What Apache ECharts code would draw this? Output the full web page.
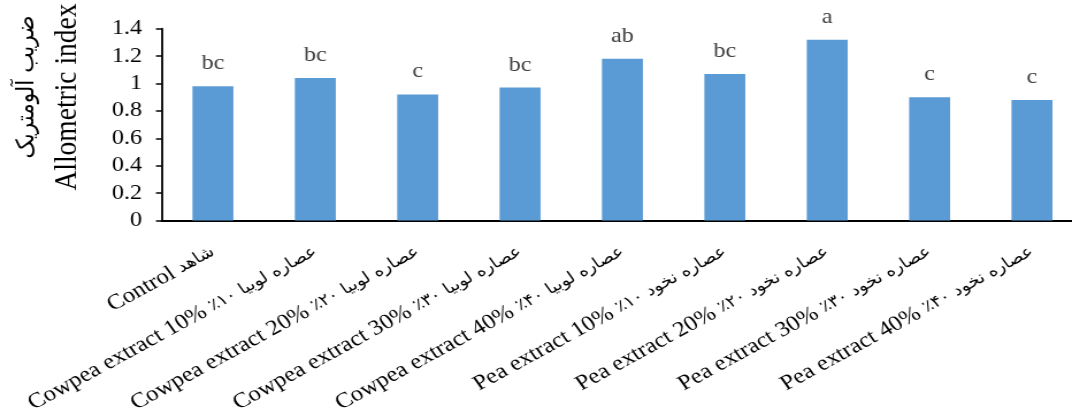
<!DOCTYPE html>
<html>
<head>
<meta charset="utf-8">
<script src="https://cdn.jsdelivr.net/npm/echarts@6/dist/echarts.min.js"></script>
<style>
  html, body { margin: 0; padding: 0; background: #fff; overflow: hidden; }
  /* the chart is laid out on a narrower canvas and widened horizontally */
  #chart { width: 932px; height: 408px; transform: scaleX(1.150215); transform-origin: 0 0; }
</style>
</head>
<body>
<div id="chart"></div>
<script>
// Treatments (English + Persian caption for each bar)
const categoriesEn = ['Control', 'Cowpea extract 10%', 'Cowpea extract 20%', 'Cowpea extract 30%', 'Cowpea extract 40%',
  'Pea extract 10%', 'Pea extract 20%', 'Pea extract 30%', 'Pea extract 40%'];
const categoriesFa = ['شاهد', 'عصاره لوبیا ۱۰٪', 'عصاره لوبیا ۲۰٪', 'عصاره لوبیا ۳۰٪', 'عصاره لوبیا ۴۰٪',
  'عصاره نخود ۱۰٪', 'عصاره نخود ۲۰٪', 'عصاره نخود ۳۰٪', 'عصاره نخود ۴۰٪'];

// Allometric index per treatment
const allometricIndex = [0.98, 1.04, 0.92, 0.97, 1.18, 1.07, 1.32, 0.90, 0.88];

// Mean-separation letters
const letters = ['bc', 'bc', 'c', 'bc', 'ab', 'bc', 'a', 'c', 'c'];

// Value axis range
const yMin = 0, yMax = 1.4, yStep = 0.2;

const yTitleEn = 'Allometric index';
const yTitleFa = 'ضریب آلومتریک';

const RLM = '\u200F';
const serif = '"Liberation Serif", "Times New Roman", serif';
const arabicFont = '"DejaVu Sans", sans-serif';

const chart = echarts.init(document.getElementById('chart'), null, { renderer: 'canvas' });

chart.setOption({
  backgroundColor: '#ffffff',
  animation: false,
  grid: {
    left: 140.6, right: -9.7, top: 28.7, bottom: 187.5,
    containLabel: false,
    outerBoundsMode: 'none'
  },
  xAxis: {
    type: 'category',
    data: categoriesEn,
    axisLine: { show: true, lineStyle: { color: '#000', width: 2 } },
    axisTick: { show: false },
    axisLabel: {
      interval: 0,
      rotate: 32,
      margin: 30,
      formatter: (value, idx) => '{en|' + categoriesEn[idx] + ' }{fa|' + RLM + categoriesFa[idx] + RLM + '}',
      rich: {
        en: { fontFamily: serif, fontSize: 21.5, color: '#000' },
        fa: { fontFamily: arabicFont, fontSize: 16, color: '#000' }
      }
    }
  },
  yAxis: {
    type: 'value',
    min: yMin,
    max: yMax,
    interval: yStep,
    splitLine: { show: false },
    axisLine: { show: true, lineStyle: { color: '#000', width: 1.8 } },
    axisTick: { show: true, inside: false, length: 5, lineStyle: { color: '#000', width: 1.5 } },
    axisLabel: {
      margin: 17,
      fontFamily: serif,
      fontSize: 21,
      color: '#000'
    }
  },
  series: [{
    type: 'bar',
    data: allometricIndex,
    barWidth: '40%',
    itemStyle: { color: '#5B9BD5' },
    label: {
      show: true,
      position: 'top',
      distance: 12,
      fontFamily: serif,
      fontSize: 21,
      color: '#404040',
      formatter: p => letters[p.dataIndex]
    }
  }],
  graphic: [
    {
      type: 'text',
      x: 58.5, y: 97,
      rotation: Math.PI / 2,
      style: {
        text: yTitleEn,
        font: '27.5px ' + serif,
        fill: '#000',
        align: 'center',
        verticalAlign: 'middle'
      }
    },
    {
      type: 'text',
      x: 23, y: 87,
      rotation: Math.PI / 2,
      style: {
        text: RLM + yTitleFa + RLM,
        font: '21.5px ' + arabicFont,
        fill: '#000',
        align: 'center',
        verticalAlign: 'middle'
      }
    }
  ]
});
</script>
</body>
</html>
